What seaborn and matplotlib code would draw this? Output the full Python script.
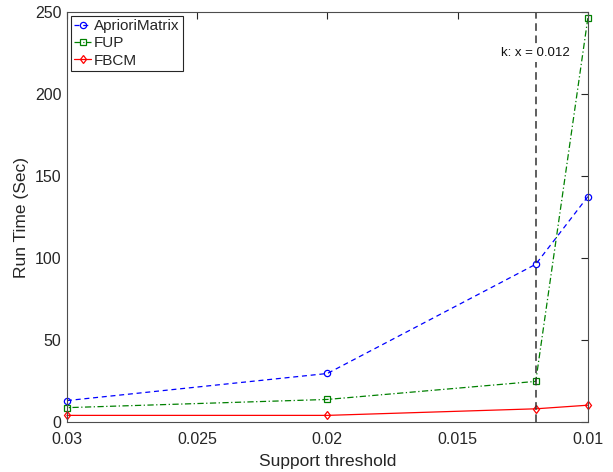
import matplotlib

matplotlib.use("Agg")
import matplotlib.pyplot as plt
import pandas as pd
import seaborn as sns

support = [0.03, 0.02, 0.012, 0.01]
apriori_matrix = [13.3, 29.8, 96.3, 137.5]
fup = [9.0, 14.0, 25.0, 246.2]
fbcm = [4.3, 4.3, 8.3, 10.5]
k_value = 0.012
x_ticks = [0.03, 0.025, 0.02, 0.015, 0.01]
x_tick_labels = ["0.03", "0.025", "0.02", "0.015", "0.01"]
y_ticks = [0, 50, 100, 150, 200, 250]

sns.set_theme(style="white")
plt.rcParams["font.family"] = ["Liberation Sans", "DejaVu Sans"]

fig = plt.figure(figsize=(6.13, 4.72), dpi=100)
ax = fig.add_axes([0.109, 0.105, 0.85, 0.87])

series = [
    ("AprioriMatrix", apriori_matrix, "#0000ff", (0, (4, 3)), "o"),
    ("FUP", fup, "#008000", (0, (5, 2, 1, 2)), "s"),
    ("FBCM", fbcm, "#ff0000", "-", "d"),
]
for name, vals, color, ls, marker in series:
    df = pd.DataFrame({"support": support, "time": vals})
    sns.lineplot(
        data=df, x="support", y="time", ax=ax, color=color, linestyle=ls,
        linewidth=0.9, marker=marker, markersize=4.5, markerfacecolor="none",
        markeredgecolor=color, markeredgewidth=0.9, label=name, clip_on=False,
    )

ax.axvline(k_value, color="#333333", linestyle=(0, (5, 3)), linewidth=1.1)
ax.text(k_value, 225, f"k: x = {k_value}", ha="center", va="center", fontsize=9.5,
        color="#111111", bbox=dict(facecolor="white", edgecolor="none", pad=2))

ax.set_xlim(0.03, 0.01)
ax.set_ylim(0, 250)
ax.set_xticks(x_ticks)
ax.set_xticklabels(x_tick_labels)
ax.set_yticks(y_ticks)
ax.tick_params(direction="in", length=5, width=0.8, top=True, right=True,
               labelsize=11.5, colors="#262626")
ax.tick_params(axis="x", pad=7)
ax.tick_params(axis="y", pad=4)
for s in ax.spines.values():
    s.set_color("#4d4d4d")
    s.set_linewidth(0.8)
ax.set_xlabel("Support threshold", fontsize=12.5, labelpad=5)
ax.set_ylabel("Run Time (Sec)", fontsize=12.5, labelpad=4)

leg = ax.legend(loc="upper left", fontsize=11, frameon=True, fancybox=False,
                borderaxespad=0.25, handlelength=1.1, handletextpad=0.15,
                labelspacing=0.2, borderpad=0.25)
leg.get_frame().set_edgecolor("#262626")
leg.get_frame().set_linewidth(0.8)
leg.get_frame().set_alpha(1)

fig.savefig("out.png", dpi=100)
